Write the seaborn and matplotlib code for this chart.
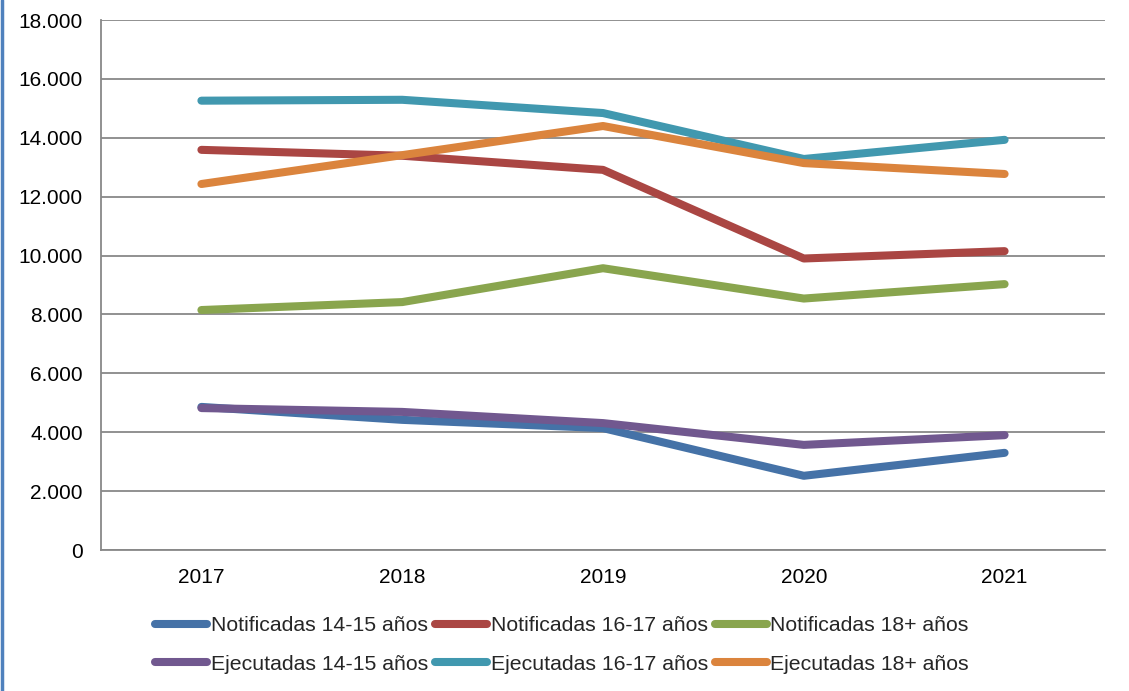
import matplotlib.pyplot as plt
import matplotlib.ticker as mticker
import pandas as pd
import seaborn as sns
from matplotlib.lines import Line2D

years = ['2017', '2018', '2019', '2020', '2021']
notif_14_15 = [4860, 4420, 4140, 2520, 3300]
notif_16_17 = [13590, 13390, 12910, 9900, 10150]
notif_18 = [8150, 8420, 9570, 8540, 9030]
ejec_14_15 = [4820, 4690, 4310, 3570, 3900]
ejec_16_17 = [15260, 15290, 14840, 13280, 13930]
ejec_18 = [12430, 13410, 14400, 13140, 12770]

series = {
    'Notificadas 14-15 años': notif_14_15,
    'Notificadas 16-17 años': notif_16_17,
    'Notificadas 18+ años': notif_18,
    'Ejecutadas 14-15 años': ejec_14_15,
    'Ejecutadas 16-17 años': ejec_16_17,
    'Ejecutadas 18+ años': ejec_18,
}
colors = {
    'Notificadas 14-15 años': '#4572A7',
    'Notificadas 16-17 años': '#AA4643',
    'Notificadas 18+ años': '#89A54E',
    'Ejecutadas 14-15 años': '#71588F',
    'Ejecutadas 16-17 años': '#4198AF',
    'Ejecutadas 18+ años': '#DB843D',
}

rows = []
for name, vals in series.items():
    for i, v in enumerate(vals):
        rows.append({'pos': i, 'serie': name, 'valor': v})
df = pd.DataFrame(rows)

sns.set_style('white')
plt.rcParams['font.family'] = ['Liberation Sans', 'DejaVu Sans']

fig = plt.figure(figsize=(11.29, 6.91), dpi=100)
ax = fig.add_axes([101 / 1129, 1 - 550 / 691, (1105 - 101) / 1129, (550 - 20) / 691])

lw = 5.8
sns.lineplot(data=df, x='pos', y='valor', hue='serie', palette=colors,
             linewidth=lw, legend=False, ax=ax,
             solid_capstyle='round', solid_joinstyle='round')

ax.set_xlim(-0.5, 4.5)
ax.set_ylim(0, 18000)
ax.set_xticks(range(len(years)))
ax.set_xticklabels(years)
ax.set_yticks(range(0, 18001, 2000))
ax.yaxis.set_major_formatter(mticker.FuncFormatter(
    lambda v, p: '0' if v == 0 else f'{int(v):,}'.replace(',', '.')))
ax.tick_params(axis='both', labelsize=15, length=0, colors='black')
ax.tick_params(axis='x', pad=13)
ax.tick_params(axis='y', pad=13)
ax.set_xlabel('')
ax.set_ylabel('')
ax.grid(axis='y', color='#888888', linewidth=1.3)
ax.set_axisbelow(True)
for side in ['top', 'right']:
    ax.spines[side].set_visible(False)
for side in ['left', 'bottom']:
    ax.spines[side].set_color('#888888')
    ax.spines[side].set_linewidth(1.3)

# legend: column-major fill, so interleave to get the row order
order = ['Notificadas 14-15 años', 'Ejecutadas 14-15 años',
         'Notificadas 16-17 años', 'Ejecutadas 16-17 años',
         'Notificadas 18+ años', 'Ejecutadas 18+ años']
handles = [Line2D([], [], color=colors[n], linewidth=lw, solid_capstyle='round') for n in order]
fig.legend(handles, order, loc='center', bbox_to_anchor=(0.498, 1 - 645 / 691),
           ncol=3, frameon=False, fontsize=15.3, handlelength=2.45,
           handletextpad=0.15, columnspacing=0.35, labelspacing=0.9)

# left border of the chart area
fig.add_artist(Line2D([0.0015, 0.0015], [0, 1], color='#4F81BD', linewidth=2.5,
                      transform=fig.transFigure))

fig.savefig('out.png', dpi=100)
plt.close(fig)
